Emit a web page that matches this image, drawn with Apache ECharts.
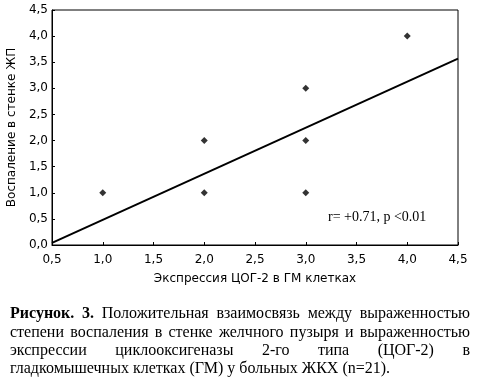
<!DOCTYPE html>
<html>
<head>
<meta charset="utf-8">
<script src="https://cdn.jsdelivr.net/npm/echarts@6/dist/echarts.min.js"></script>
<style>
html,body{margin:0;padding:0;background:#fff;}
#c{width:482px;height:386px;}
</style>
</head>
<body>
<div id="c"></div>
<script>
// Data
const xTicks = [0.5, 1.0, 1.5, 2.0, 2.5, 3.0, 3.5, 4.0, 4.5];
const yTicks = [0.0, 0.5, 1.0, 1.5, 2.0, 2.5, 3.0, 3.5, 4.0, 4.5];
const pointsX = [1, 2, 2, 3, 3, 3, 4];
const pointsY = [1, 2, 1, 3, 2, 1, 4];
const fitX = [0.5, 4.5];
const fitY = [0.04, 3.57];
const xTitle = 'Экспрессия ЦОГ-2 в ГМ клетках';
const yTitle = 'Воспаление в стенке ЖП';
const statText = 'r= +0.71, p <0.01';
const captionBold = 'Рисунок. 3.';
const captionLines = [
  'Положительная взаимосвязь между выраженностью',
  'степени воспаления в стенке желчного пузыря и выраженностью',
  'экспрессии циклооксигеназы 2-го типа (ЦОГ-2) в',
  'гладкомышечных клетках (ГМ) у больных ЖКХ (n=21).'
];

const fmt = v => v.toFixed(1).replace('.', ',');

// caption layout (justified)
const capFont = 'Liberation Serif';
const capSize = 16;
const capLeft = 10, capRight = 470;
const capBase = [318, 336.5, 355, 373];
const cv = document.createElement('canvas').getContext('2d');
function w(t, bold) { cv.font = (bold ? 'bold ' : '') + capSize + 'px "' + capFont + '"'; return cv.measureText(t).width; }
const graphics = [];
captionLines.forEach((line, i) => {
  let words = line.split(' ').map(t => ({t, b: false}));
  if (i === 0) words = captionBold.split(' ').map(t => ({t, b: true})).concat(words);
  const widths = words.map(o => w(o.t, o.b));
  const total = widths.reduce((a, b) => a + b, 0);
  const justify = i < captionLines.length - 1;
  const gap = justify ? (capRight - capLeft - total) / (words.length - 1) : w(' ', false);
  let x = capLeft;
  words.forEach((o, k) => {
    graphics.push({
      type: 'text', x: x, y: capBase[i] - 12,
      style: { text: o.t, fontFamily: capFont, fontSize: capSize, fontWeight: o.b ? 'bold' : 'normal', fill: '#000' }
    });
    x += widths[k] + gap;
  });
});
graphics.push({
  type: 'text', x: 328, y: 210,
  style: { text: statText, fontFamily: capFont, fontSize: 14, fill: '#000' }
});

const chart = echarts.init(document.getElementById('c'), null, {renderer: 'canvas'});
const labelFont = 'DejaVu Sans';
const axisCommon = {
  axisLine: { show: true, onZero: false, lineStyle: { color: '#000', width: 1 } },
  axisTick: { show: true, inside: true, length: 3, lineStyle: { color: '#000' } },
  splitLine: { show: false },
  nameTextStyle: { fontFamily: labelFont, fontSize: 12, color: '#000' },
};
chart.setOption({
  animation: false,
  backgroundColor: '#fff',
  grid: { left: 52, right: 24, top: 10, bottom: 141, show: true, borderColor: '#000', borderWidth: 1, containLabel: false, outerBoundsMode: 'none' },
  xAxis: Object.assign({}, axisCommon, {
    type: 'value', min: xTicks[0], max: xTicks[xTicks.length - 1], interval: 0.5,
    name: xTitle, nameLocation: 'middle', nameGap: 28,
    axisLabel: { formatter: fmt, fontFamily: labelFont, fontSize: 12, color: '#000', margin: 9 }
  }),
  yAxis: Object.assign({}, axisCommon, {
    type: 'value', min: yTicks[0], max: yTicks[yTicks.length - 1], interval: 0.5,
    name: yTitle, nameLocation: 'middle', nameGap: 31,
    axisLabel: { formatter: fmt, fontFamily: labelFont, fontSize: 12, color: '#000', margin: 4 }
  }),
  series: [
    {
      type: 'line', data: fitX.map((x, i) => [x, fitY[i]]),
      showSymbol: false, lineStyle: { color: '#000', width: 2 }, silent: true
    },
    {
      type: 'scatter', data: pointsX.map((x, i) => [x, pointsY[i]]),
      symbol: 'diamond', symbolSize: 7, itemStyle: { color: '#000' }
    }
  ],
  graphic: graphics
});
</script>
</body>
</html>
